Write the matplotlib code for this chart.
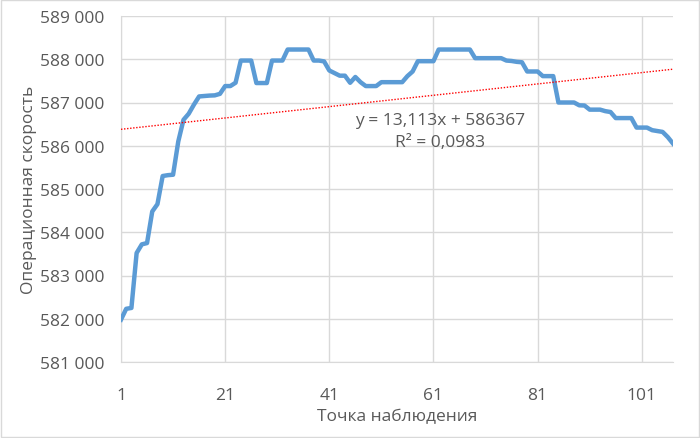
import matplotlib.pyplot as plt
from matplotlib.ticker import FuncFormatter
from matplotlib.patches import Rectangle
import numpy as np

speed = [581980, 582230, 582250, 583520, 583720, 583750, 584480, 584650, 585300, 585320,
         585330, 586100, 586600, 586740, 586950, 587140, 587150, 587160, 587165, 587200,
         587380, 587380, 587457, 587970, 587970, 587970, 587450, 587450, 587450, 587970,
         587970, 587970, 588225, 588225, 588225, 588225, 588225, 587970, 587970, 587950,
         587740, 587680, 587620, 587620, 587456, 587590, 587470, 587380, 587380, 587380,
         587470, 587470, 587470, 587470, 587470, 587610, 587717, 587955, 587955, 587955,
         587955, 588225, 588225, 588225, 588225, 588225, 588225, 588225, 588025, 588025,
         588025, 588025, 588025, 588025, 587970, 587960, 587940, 587930, 587717, 587717,
         587717, 587610, 587610, 587610, 587000, 587000, 587000, 587000, 586935, 586930,
         586835, 586835, 586835, 586800, 586780, 586640, 586640, 586640, 586640, 586420,
         586420, 586420, 586360, 586340, 586320, 586200, 586050]
points = list(range(1, len(speed) + 1))

# linear trend shown in the chart
slope = 13.113
intercept = 586367
equation = 'y = 13,113x + 586367'
r2_text = 'R² = 0,0983'

x_ticks = [1, 21, 41, 61, 81, 101]
y_ticks = list(range(581000, 590000, 1000))

plt.rcParams['font.family'] = ['Open Sans', 'DejaVu Sans']
grey = '#595959'

fig = plt.figure(figsize=(7, 4.39), dpi=100)
ax = fig.add_axes([121 / 700, 1 - 363 / 439, (673 - 121) / 700, (363 - 17) / 439])

ax.plot(points, speed, color='#5B9BD5', lw=3.2, solid_joinstyle='round', zorder=3)

tx = np.array([points[0], points[-1]])
ax.plot(tx, slope * tx + intercept, color='#FF0000', lw=1.0, ls=(0, (1, 1.2)), zorder=4)

# equation label sits under the middle of the trend line
ax.text(62.3, 586600, equation, ha='center', va='center', fontsize=12.5, color=grey)
ax.text(62.3, 586090, r2_text, ha='center', va='center', fontsize=12.5, color=grey)

ax.set_xlim(1, len(speed))
ax.set_ylim(581000, 589000)
ax.set_xticks(x_ticks)
ax.set_yticks(y_ticks)
ax.yaxis.set_major_formatter(FuncFormatter(lambda v, p: f'{int(v):,}'.replace(',', ' ')))
ax.tick_params(length=0, labelsize=12.5, labelcolor=grey)
ax.tick_params(axis='x', pad=18)
ax.tick_params(axis='y', pad=12)

ax.grid(True, color='#D9D9D9', lw=1)
ax.set_axisbelow(True)
for s in ['top', 'right']:
    ax.spines[s].set_visible(False)
for s in ['left', 'bottom']:
    ax.spines[s].set_color('#D9D9D9')

ax.set_xlabel('Точка наблюдения', fontsize=12.5, color=grey, labelpad=4)
ax.set_ylabel('Операционная скорость', fontsize=12.5, color=grey, labelpad=2)

fig.patches.append(Rectangle((0.002, 0.002), 0.996, 0.996, transform=fig.transFigure,
                             fill=False, edgecolor='#D9D9D9', lw=1))

fig.savefig('out.png', dpi=100)
